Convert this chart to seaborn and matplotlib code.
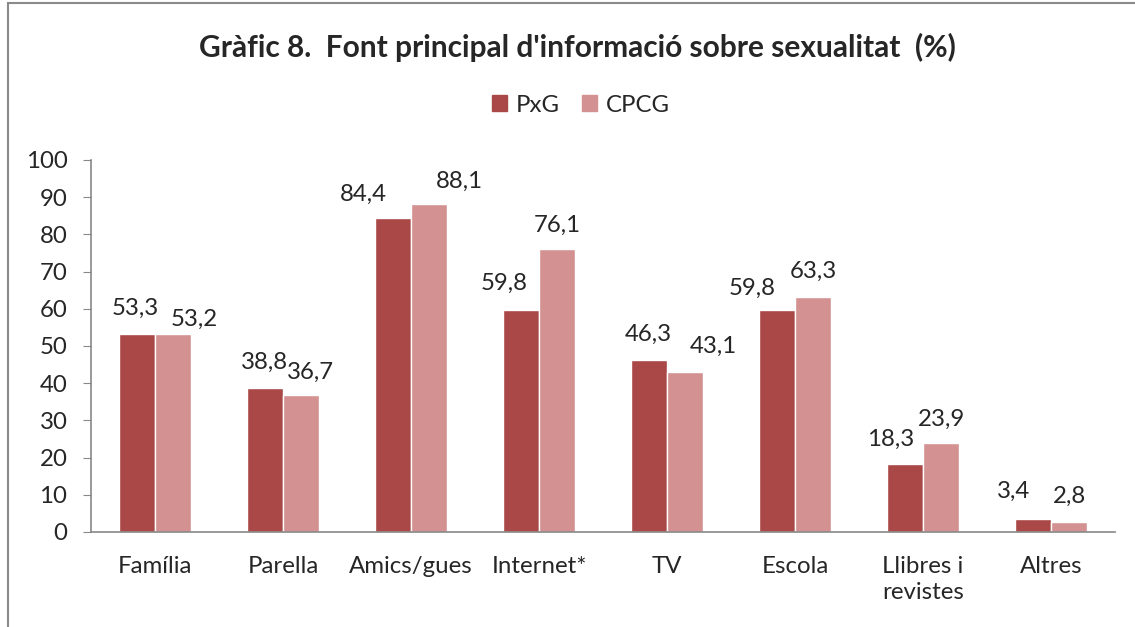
import matplotlib
matplotlib.use("Agg")
import matplotlib.pyplot as plt
import seaborn as sns
import pandas as pd
from matplotlib.patches import Rectangle

categories = ["Família", "Parella", "Amics/gues", "Internet*", "TV", "Escola", "Llibres i\nrevistes", "Altres"]
pxg = [53.3, 38.8, 84.4, 59.8, 46.3, 59.8, 18.3, 3.4]
cpcg = [53.2, 36.7, 88.1, 76.1, 43.1, 63.3, 23.9, 2.8]
series = ["PxG", "CPCG"]
colors = ["#A94846", "#D39191"]

# label nudges (pixels, centre of label relative to top-centre of bar)
pxg_off = [(-1, 27), (0, 27), (-29, 26), (-17, 28), (0, 27), (-25, 23), (-14, 27), (-19, 30)]
cpcg_off = [(21, 17), (9, 25), (30, 25), (0, 26), (28, 27), (0, 27), (0, 26), (0, 27)]

df = pd.DataFrame({
    "cat": categories * 2,
    "val": pxg + cpcg,
    "serie": [series[0]] * len(categories) + [series[1]] * len(categories),
})

sns.set_style("white")
plt.rcParams["font.family"] = ["Lato", "DejaVu Sans"]
fs = 17.3

fig = plt.figure(figsize=(11.35, 6.27), dpi=100)
ax = fig.add_axes([91 / 1135, 1 - 532 / 627, 1024 / 1135, 372 / 627])

sns.barplot(data=df, x="cat", y="val", hue="serie", palette=colors, width=0.57,
            saturation=1, ax=ax, legend=False)

# data labels
px2pt = 72 / 100
for cont, offs in zip(ax.containers, [pxg_off, cpcg_off]):
    for bar, (dx, dy) in zip(cont, offs):
        h = bar.get_height()
        ax.annotate(f"{h:.1f}".replace(".", ","),
                    (bar.get_x() + bar.get_width() / 2, h),
                    xytext=(dx * px2pt, dy * px2pt), textcoords="offset points",
                    ha="center", va="center_baseline", fontsize=fs)

ax.set_ylim(0, 100)
ax.set_xlim(-0.5, 7.5)
ax.set_yticks(range(0, 101, 10))
ax.set_xlabel("")
ax.set_ylabel("")
ax.tick_params(axis="y", labelsize=fs, length=6, color="#888888", direction="out", left=True, pad=11)
ax.tick_params(axis="x", labelsize=fs, length=0, pad=17)
for lab in ax.get_xticklabels():
    lab.set_linespacing(1.3)
for s in ["top", "right"]:
    ax.spines[s].set_visible(False)
for s in ["left", "bottom"]:
    ax.spines[s].set_color("#888888")
    ax.spines[s].set_linewidth(1.2)

# legend
handles = [Rectangle((0, 0), 1, 1, color=c) for c in colors]
fig.legend(handles, series, loc="center", bbox_to_anchor=(581 / 1135, 1 - 105 / 627),
           ncol=2, frameon=False, fontsize=fs, handlelength=0.62, handleheight=0.62,
           handletextpad=0.4, columnspacing=0.9)

fig.text(577 / 1135, 1 - 47 / 627, "Gràfic 8.  Font principal d'informació sobre sexualitat  (%)",
         ha="center", va="center", fontsize=21.5, fontweight="bold")

# chart border
fig.patches.append(Rectangle((8 / 1135, -0.1), 1.2, 1.1 - 3 / 627, transform=fig.transFigure,
                             fill=False, edgecolor="#8a8a8a", linewidth=1.5))

fig.savefig("out.png", dpi=100)
